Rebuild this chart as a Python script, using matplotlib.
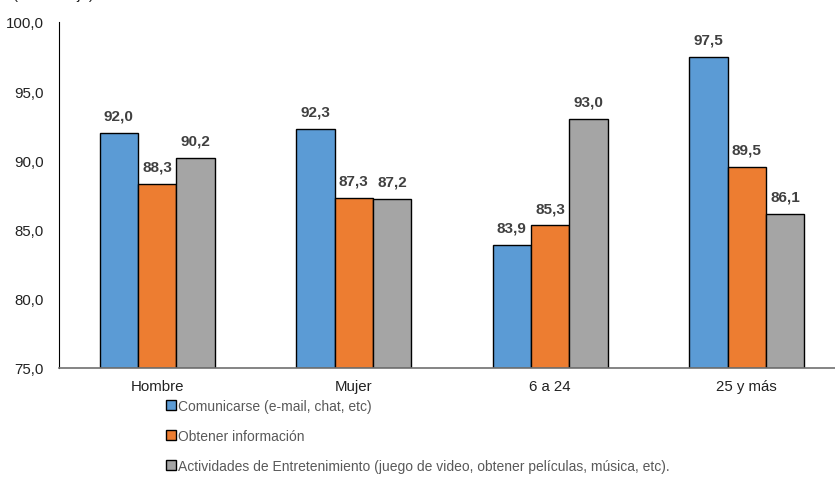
import numpy as np
import matplotlib
matplotlib.use('Agg')
import matplotlib.pyplot as plt

plt.rcParams['font.family'] = ['Liberation Sans', 'DejaVu Sans']

categorias = ['Hombre', 'Mujer', '6 a 24', '25 y más']
series = ['Comunicarse (e-mail, chat, etc)',
          'Obtener información',
          'Actividades de Entretenimiento (juego de video, obtener películas, música, etc).']
comunicarse = [92.0, 92.3, 83.9, 97.5]
informacion = [88.3, 87.3, 85.3, 89.5]
entretenimiento = [90.2, 87.2, 93.0, 86.1]
yticks = [75, 80, 85, 90, 95, 100]

colores = ['#5B9BD5', '#ED7D31', '#A5A5A5']
valores = [comunicarse, informacion, entretenimiento]

fig = plt.figure(figsize=(8.35, 4.89), dpi=100)
ax = fig.add_axes([59/835, 120/489, 786/835, 346/489])

x = np.arange(len(categorias))
w = 0.195
handles = []
for i, (vals, col, lab) in enumerate(zip(valores, colores, series)):
    pos = x + (i - 1) * w
    b = ax.bar(pos, [v - 75 for v in vals], w, bottom=75, color=col,
               edgecolor='black', linewidth=1.0, label=lab)
    handles.append(b)
    for p, v in zip(pos, vals):
        ax.text(p, v + 0.75, f'{v:.1f}'.replace('.', ','), ha='center', va='bottom',
                fontsize=11, fontweight='bold', color='#404040')

ax.set_xlim(-0.5, 3.5)
ax.set_ylim(75, 100)
ax.set_yticks(yticks)
ax.set_yticklabels([f'{t:.1f}'.replace('.', ',') for t in yticks])
ax.set_xticks(x)
ax.set_xticklabels(categorias)
ax.tick_params(axis='both', length=0, labelsize=10.8, colors='#222222')
ax.tick_params(axis='y', pad=11)
ax.tick_params(axis='x', pad=8)
for s in ['top', 'right']:
    ax.spines[s].set_visible(False)
ax.spines['left'].set_color('black')
ax.spines['bottom'].set_color('#707070')
ax.spines['bottom'].set_linewidth(1.2)

fig.legend(handles=handles, labels=series, loc='upper left',
           bbox_to_anchor=(166/835, 1 - 400/489), frameon=False, ncol=1,
           fontsize=10, handlelength=0.7, handleheight=0.7, handletextpad=0.2,
           labelspacing=1.15, labelcolor='#595959', borderaxespad=0, borderpad=0)

fig.text(12/835, 1 + 1/489, '(Porcentaje)', fontsize=10.8, va='baseline', color='#222222')

fig.savefig('out.png', dpi=100)
